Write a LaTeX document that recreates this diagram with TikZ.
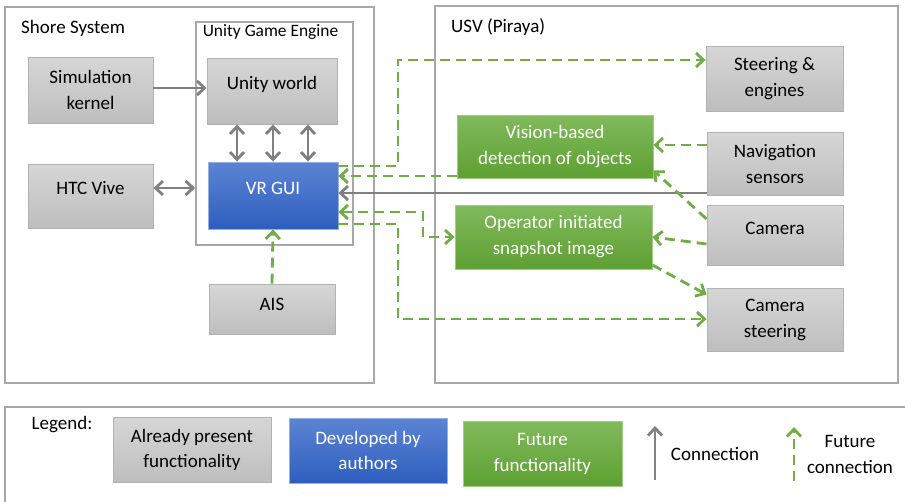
\documentclass[tikz,border=0pt]{standalone}
\usepackage{fontspec}
\setmainfont{Carlito}
\usetikzlibrary{arrows.meta}
\definecolor{gtop}{RGB}{214,214,214}
\definecolor{gbot}{RGB}{190,190,190}
\definecolor{gline}{RGB}{178,178,178}
\definecolor{btop}{RGB}{92,132,212}
\definecolor{bbot}{RGB}{46,94,190}
\definecolor{bline}{RGB}{150,175,225}
\definecolor{grtop}{RGB}{128,186,92}
\definecolor{grbot}{RGB}{94,160,50}
\definecolor{grline}{RGB}{160,205,130}
\definecolor{cont}{RGB}{168,168,168}
\definecolor{conc}{RGB}{128,128,128}
\definecolor{futc}{RGB}{112,173,71}
\tikzset{
  >={Straight Barb[length=7.5pt,width=14pt]},
  boxbase/.style={line width=0.9pt, inner sep=0pt, align=center, font=\fontsize{19}{26}\selectfont},
  grayb/.style={boxbase, draw=gline, top color=gtop, bottom color=gbot, text=black},
  blueb/.style={boxbase, draw=bline, top color=btop, bottom color=bbot, text=white},
  greenb/.style={boxbase, draw=grline, top color=grtop, bottom color=grbot, text=white},
  container/.style={draw=cont, line width=1.6pt, inner sep=0pt},
  con/.style={draw=conc, line width=2.8pt},
  fut/.style={draw=futc, line width=2.8pt, dash pattern=on 10pt off 6pt},
  lbl/.style={font=\fontsize{19}{26}\selectfont, inner sep=0pt, align=center}
}
\begin{document}
\begin{tikzpicture}[x=1pt,y=-1pt]
\useasboundingbox (0,0) rectangle (905,501);
\clip (0,0) rectangle (905,501);
\fill[white] (0,0) rectangle (905,501);

% containers
\node[container, minimum width=369pt, minimum height=376pt] (shore) at (189.5,195) {};
\node[container, minimum width=157pt, minimum height=223pt] (engine) at (274.5,133.5) {};
\node[container, minimum width=463pt, minimum height=377pt] (usv) at (666.5,194.5) {};
\node[container, minimum width=915pt, minimum height=113pt] (legend) at (462.5,463.5) {};

\node[lbl, anchor=west] (shoret) at (21,28) {Shore System};
\node[lbl, font=\fontsize{17.4}{20}\selectfont] (enginet) at (270.5,32) {Unity Game Engine};
\node[lbl, anchor=west] (usvt) at (451,27) {USV (Piraya)};

% shore boxes
\node[grayb, minimum width=125pt, minimum height=66pt] (sim) at (90.5,90) {Simulation\\kernel};
\node[grayb, minimum width=125pt, minimum height=64pt] (htc) at (90.5,196) {\raisebox{16pt}{HTC Vive}};
\node[grayb, minimum width=130pt, minimum height=66pt] (unity) at (272,91) {\raisebox{16pt}{Unity world}};
\node[blueb, minimum width=130pt, minimum height=67pt] (vr) at (273,195.5) {\raisebox{15pt}{VR GUI}};
\node[grayb, minimum width=126pt, minimum height=50pt] (ais) at (272,309) {\raisebox{10pt}{AIS}};

% USV boxes
\node[grayb, minimum width=137pt, minimum height=65pt] (steer) at (774.5,78.5) {Steering \&\\engines};
\node[grayb, minimum width=136pt, minimum height=63pt] (nav) at (775,163.5) {Navigation\\sensors};
\node[grayb, minimum width=136pt, minimum height=60pt] (cam) at (775,235) {\raisebox{14pt}{Camera}};
\node[grayb, minimum width=136pt, minimum height=63pt] (camst) at (775,319.5) {Camera\\steering};
\node[greenb, minimum width=196pt, minimum height=63pt] (vision) at (555,146.5) {Vision-based\\detection of objects};
\node[greenb, minimum width=197pt, minimum height=64pt] (oper) at (553.5,237) {Operator initiated\\snapshot image};

% gray connectors
\draw[con, ->] (sim.east |- 0,88) -- (unity.west |- 0,88);
\draw[con, <->] (htc.east |- 0,188) -- (engine.west |- 0,188);
\foreach \xx in {237,273,308}{
  \draw[con, <->] (unity.south -| \xx,0) -- (vr.north -| \xx,0);
}
\draw[con, ->] (nav.west |- 0,193) -- (vr.east |- 0,193);

% future connectors
\draw[fut, ->] (vr.east |- 0,166) -| (398,60) -- (steer.west |- 0,60);
\draw[fut, ->] (vision.west |- 0,176) -- (vr.east |- 0,176);
\draw[fut, <->] (vr.east |- 0,212) -| (423,237) -- (oper.west |- 0,237);
\draw[fut, ->] (vr.east |- 0,224) -| (398,319) -- (camst.west |- 0,319);
\draw[fut, ->] (nav.west |- 0,145) -- (vision.east |- 0,145);
\draw[fut, ->] (cam.west |- 0,219) -- ([yshift=8pt]vision.south east);
\draw[fut, ->] (cam.west |- 0,244) -- (oper.east |- 0,237);
\draw[fut, ->] (oper.east |- 0,265) -- ([yshift=-7pt]camst.north west);
\draw[fut, ->] (ais.north) -- (vr.south);

% legend
\node[lbl] (legt) at (62,425) {Legend:};
\node[grayb, minimum width=158pt, minimum height=65pt, font=\fontsize{19}{25}\selectfont] (lgray) at (192,449.5) {Already present\\functionality};
\node[blueb, minimum width=158pt, minimum height=65pt, font=\fontsize{19}{25}\selectfont] (lblue) at (368,450.5) {Developed by\\authors};
\node[greenb, minimum width=159pt, minimum height=65pt, font=\fontsize{19}{26}\selectfont] (lgreen) at (542.5,453.5) {Future\\functionality};
\coordinate (c1a) at (655,480);
\coordinate (c1b) at (655,426);
\draw[con, ->] (c1a) -- (c1b);
\node[lbl] (cont1) at (715,454) {Connection};
\coordinate (c2a) at (794,481);
\coordinate (c2b) at (794,427);
\draw[fut, ->] (c2a) -- (c2b);
\node[lbl] (cont2) at (850,454) {Future\\connection};
\end{tikzpicture}
\end{document}
